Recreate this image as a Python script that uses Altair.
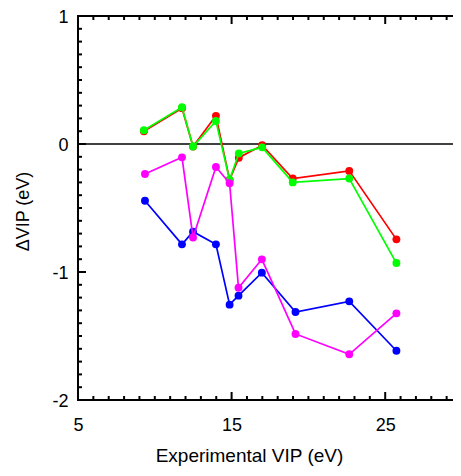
import altair as alt
import pandas as pd

# Experimental VIP (eV) and ΔVIP (eV) values
x_rg = [9.29, 11.77, 12.49, 13.98, 14.87, 15.47, 16.99, 18.98, 22.66, 25.73]
red_y = [0.10, 0.28, -0.02, 0.22, -0.28, -0.107, -0.01, -0.27, -0.21, -0.745]
green_y = [0.107, 0.287, -0.02, 0.18, -0.28, -0.073, -0.026, -0.30, -0.27, -0.93]

x_bm = [9.36, 11.77, 12.49, 13.98, 14.87, 15.45, 16.97, 19.16, 22.66, 25.73]
blue_y = [-0.443, -0.784, -0.685, -0.784, -1.255, -1.185, -1.005, -1.3125, -1.229, -1.615]
magenta_y = [-0.234, -0.104, -0.73, -0.18, -0.307, -1.123, -0.901, -1.484, -1.643, -1.323]

# axis ticks
x_major = [5, 15, 25]
x_minor = [v for v in range(6, 31) if v not in (15, 25)]
y_major = [-2, -1, 0, 1]
y_minor = [round(i / 10, 1) for i in range(-19, 10) if i % 10 != 0]

W, H = 384, 384
FONT = "Liberation Sans"

xscale = alt.Scale(domain=[5, 30], nice=False, zero=False)
yscale = alt.Scale(domain=[-2, 1], nice=False, zero=False)

xaxis = alt.Axis(values=x_major, grid=False, domain=False, ticks=False,
                 labelFontSize=18, labelFont=FONT, labelColor="black",
                 labelBaseline="alphabetic", labelPadding=30, labelFlush=False,
                 labelOverlap=False,
                 title="Experimental VIP (eV)", titleFont=FONT, titleFontSize=19,
                 titleFontWeight="normal", titleColor="black",
                 titleX=171, titleY=61, titleBaseline="alphabetic", titleAlign="center")
yaxis = alt.Axis(values=y_major, grid=False, domain=False, ticks=False,
                 labelFontSize=18, labelFont=FONT, labelColor="black",
                 labelPadding=10, labelExpr="datum.value + ''", labelFlush=False,
                 labelOverlap=False, labelOffset=1.5,
                 title="ΔVIP (eV)", titleFont=FONT, titleFontSize=18,
                 titleFontWeight="normal", titleColor="black",
                 titleX=-55, titleY=195, titleAngle=270, titleBaseline="middle",
                 titleAlign="center")


def X(field):
    return alt.X(field, scale=xscale, axis=xaxis)


def Y(field):
    return alt.Y(field, scale=yscale, axis=yaxis)


def series(xs, ys, color):
    df = pd.DataFrame({"x": xs, "y": ys})
    base = alt.Chart(df).encode(x=X("x:Q"), y=Y("y:Q"))
    return base.mark_line(color=color, strokeWidth=1.7) + base.mark_circle(
        color=color, size=62, opacity=1)


zero = alt.Chart(pd.DataFrame({"y": [0]})).mark_rule(color="black", strokeWidth=1.6).encode(
    y=Y("y:Q"))

TICK = dict(color="black", strokeWidth=2)


def xticks(vals, L):
    df = pd.DataFrame({"x": vals})
    b = alt.Chart(df).mark_rule(**TICK)
    return (b.encode(x=X("x:Q"), y=alt.value(H), y2=alt.value(H - L)) +
            b.encode(x=X("x:Q"), y=alt.value(0), y2=alt.value(L)))


def yticks(vals, L):
    df = pd.DataFrame({"y": vals})
    b = alt.Chart(df).mark_rule(**TICK)
    return (b.encode(y=Y("y:Q"), x=alt.value(0), x2=alt.value(L)) +
            b.encode(y=Y("y:Q"), x=alt.value(W), x2=alt.value(W - L)))


chart = alt.layer(
    zero,
    xticks(x_major, 8), xticks(x_minor, 4),
    yticks(y_major, 8), yticks(y_minor, 4),
    series(x_rg, red_y, "#ff0000"),
    series(x_rg, green_y, "#00ff00"),
    series(x_bm, blue_y, "#0000ff"),
    series(x_bm, magenta_y, "#ff00ff"),
).properties(
    width=W, height=H,
    autosize=alt.AutoSizeParams(type="none"),
    padding={"left": 70, "top": 8, "right": -9, "bottom": 68},
).configure_view(stroke="black", strokeWidth=2)

chart.save("out.html", embed_options={"renderer": "svg", "actions": False})
